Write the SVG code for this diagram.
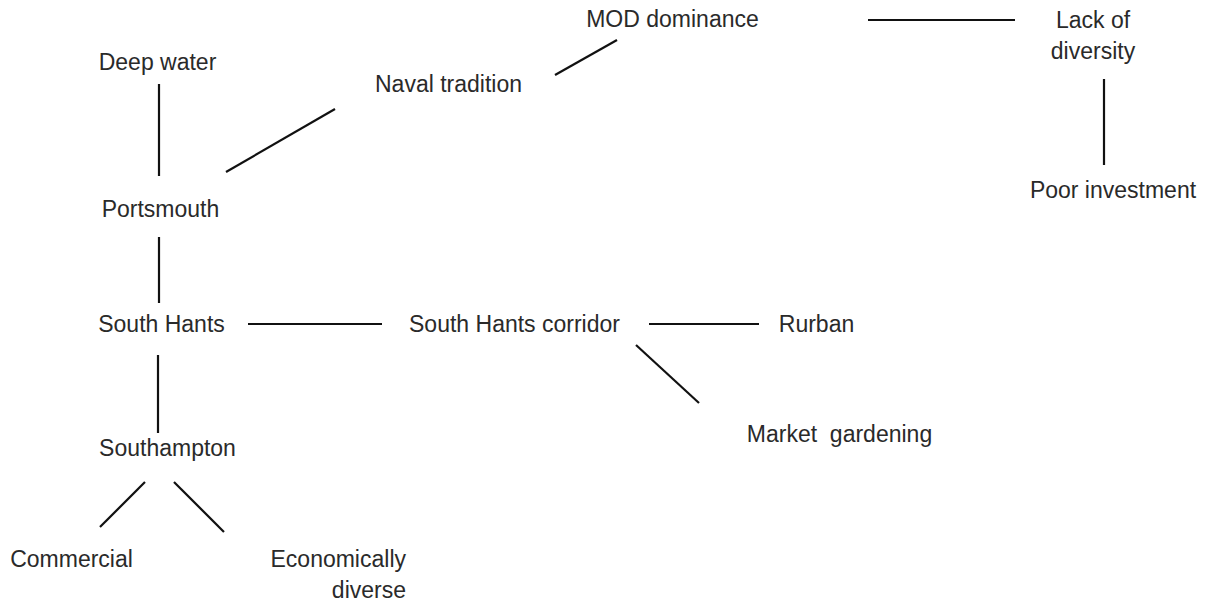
<svg xmlns="http://www.w3.org/2000/svg" width="1212" height="607" viewBox="0 0 1212 607">
<style>
text{font-family:"Liberation Sans",Arial,sans-serif;font-size:23px;fill:#2a2a2a;text-anchor:middle;white-space:pre}
.e{text-anchor:end}
#connectors line{stroke:#111;stroke-width:2.2;stroke-linecap:butt}
</style>
<rect width="1212" height="607" fill="#fff"/>
<g id="connectors">
<line x1="159" y1="84" x2="159" y2="176"/>
<line x1="226" y1="172" x2="335" y2="109"/>
<line x1="555" y1="75" x2="617" y2="40"/>
<line x1="868" y1="20" x2="1015" y2="20"/>
<line x1="1104" y1="79" x2="1104" y2="165"/>
<line x1="159" y1="237" x2="159" y2="303"/>
<line x1="248" y1="324" x2="382" y2="324"/>
<line x1="649" y1="324" x2="759" y2="324"/>
<line x1="636" y1="345" x2="699" y2="403"/>
<line x1="158" y1="355" x2="158" y2="433"/>
<line x1="145" y1="482" x2="100" y2="527"/>
<line x1="174" y1="482" x2="224" y2="532"/>
</g>
<g id="deep-water"><text x="157.5" y="70">Deep water</text></g>
<g id="naval-tradition"><text x="448.5" y="92">Naval tradition</text></g>
<g id="mod-dominance"><text x="672.5" y="27">MOD dominance</text></g>
<g id="lack-of-diversity"><text x="1093" y="28">Lack of</text><text x="1093" y="59">diversity</text></g>
<g id="poor-investment"><text x="1113" y="198">Poor investment</text></g>
<g id="portsmouth"><text x="160.5" y="217">Portsmouth</text></g>
<g id="south-hants"><text x="161.5" y="332">South Hants</text></g>
<g id="south-hants-corridor"><text x="514.5" y="332">South Hants corridor</text></g>
<g id="rurban"><text x="816.5" y="332">Rurban</text></g>
<g id="market-gardening"><text x="839.5" y="442">Market  gardening</text></g>
<g id="southampton"><text x="167.5" y="456">Southampton</text></g>
<g id="commercial"><text x="71.5" y="567">Commercial</text></g>
<g id="economically-diverse"><text class="e" x="406" y="567">Economically</text><text class="e" x="406" y="598">diverse</text></g>
</svg>
